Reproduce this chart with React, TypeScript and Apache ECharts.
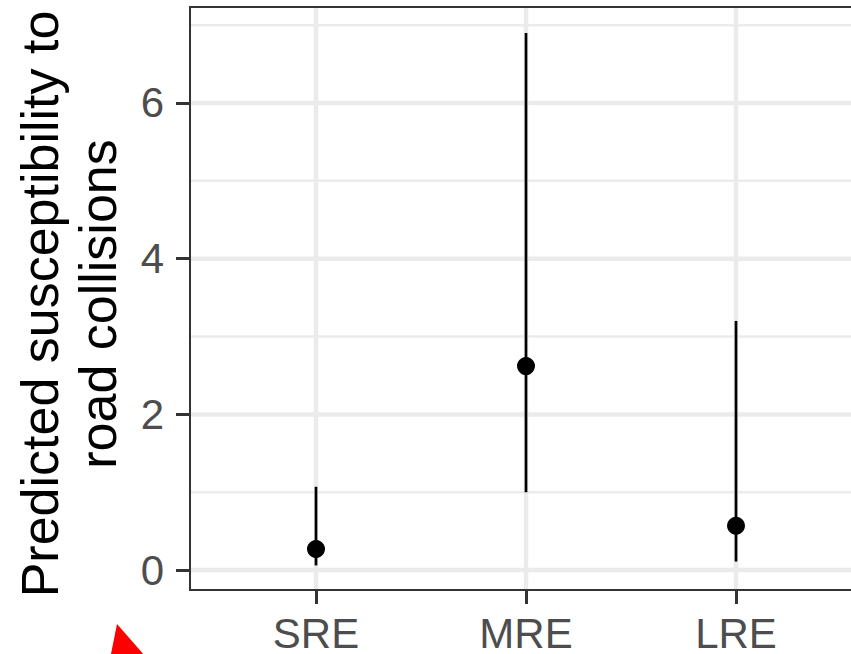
import React, { useEffect, useRef } from "react";
import * as echarts from "echarts";

const categories = ["SRE", "MRE", "LRE"];
const estimates = [0.27, 2.62, 0.57];
const lowerCI = [0.06, 1.0, 0.11];
const upperCI = [1.07, 6.9, 3.2];
const yMajor = [0, 2, 4, 6];
const yMinor = [1, 3, 5, 7];
const yTitle = "Predicted susceptibility to\nroad collisions";

const FONT = "Liberation Sans, Arial, sans-serif";

export default function App() {
  const ref = useRef<HTMLDivElement>(null);
  useEffect(() => {
    document.body.style.margin = "0";
    const chart = echarts.init(ref.current!, null, { renderer: "svg" });
    const xPos = categories.map((_, i) => i + 1);
    const gridColor = "#EBEBEB";

    const hLine = (width: number) => (params: any, api: any) => {
      const cs = params.coordSys;
      const y = api.coord([1, api.value(1)])[1];
      return {
        type: "line",
        shape: { x1: cs.x, y1: y, x2: cs.x + cs.width, y2: y },
        style: { stroke: gridColor, lineWidth: width },
      };
    };

    chart.setOption({
      animation: false,
      backgroundColor: "#ffffff",
      grid: { left: 190, right: 0, top: 7, bottom: 62 },
      xAxis: {
        type: "value",
        min: 0.4,
        max: 3.5476,
        splitLine: { show: false },
        axisLine: { show: true, onZero: false, lineStyle: { color: "#333333", width: 2 } },
        axisTick: { show: true, customValues: xPos, length: 14, lineStyle: { color: "#333333", width: 3 } },
        axisLabel: {
          customValues: xPos,
          formatter: (v: number) => categories[Math.round(v) - 1] ?? "",
          color: "#4D4D4D",
          fontSize: 42,
          fontFamily: FONT,
          margin: 22,
        },
      },
      yAxis: {
        type: "value",
        min: -0.256,
        max: 7.233,
        splitLine: { show: false },
        axisLine: { show: true, onZero: false, lineStyle: { color: "#333333", width: 2 } },
        axisTick: { show: true, customValues: yMajor, length: 14, lineStyle: { color: "#333333", width: 3 } },
        axisLabel: {
          customValues: yMajor,
          formatter: (v: number) => String(Math.round(v)),
          color: "#4D4D4D",
          fontSize: 42,
          fontFamily: FONT,
          margin: 26,
        },
      },
      graphic: [
        {
          type: "text",
          x: 69,
          y: 304,
          rotation: Math.PI / 2,
          style: {
            text: yTitle,
            fontSize: 52,
            fontFamily: FONT,
            fill: "#000000",
            align: "center",
            verticalAlign: "middle",
            lineHeight: 58,
          },
        },
        {
          type: "polygon",
          shape: { points: [[117, 624], [109, 664], [152, 664]] },
          style: { fill: "#FF0000" },
        },
      ],
      series: [
        {
          type: "custom",
          z: 1,
          silent: true,
          data: yMinor.map((v) => [1, v]),
          renderItem: hLine(2.5),
        },
        {
          type: "custom",
          z: 1,
          silent: true,
          data: yMajor.map((v) => [1, v]),
          renderItem: hLine(4.5),
        },
        {
          type: "custom",
          z: 1,
          silent: true,
          data: xPos.map((x) => [x, 0]),
          renderItem: (params: any, api: any) => {
            const cs = params.coordSys;
            const x = api.coord([api.value(0), 0])[0];
            return {
              type: "line",
              shape: { x1: x, y1: cs.y, x2: x, y2: cs.y + cs.height },
              style: { stroke: gridColor, lineWidth: 4.5 },
            };
          },
        },
        {
          type: "custom",
          z: 3,
          silent: true,
          clip: false,
          data: [[1, 0]],
          renderItem: (params: any) => {
            const cs = params.coordSys;
            return {
              type: "rect",
              shape: { x: cs.x, y: cs.y, width: cs.width + 40, height: cs.height },
              style: { stroke: "#333333", lineWidth: 2, fill: "none" },
            };
          },
        },
        {
          type: "custom",
          z: 4,
          silent: true,
          data: xPos.map((x, i) => [x, lowerCI[i], upperCI[i]]),
          renderItem: (params: any, api: any) => {
            const x = api.value(0);
            const p1 = api.coord([x, api.value(1)]);
            const p2 = api.coord([x, api.value(2)]);
            return {
              type: "line",
              shape: { x1: p1[0], y1: p1[1], x2: p2[0], y2: p2[1] },
              style: { stroke: "#000000", lineWidth: 2.7 },
            };
          },
        },
        {
          type: "scatter",
          z: 5,
          silent: true,
          symbol: "circle",
          symbolSize: 18,
          itemStyle: { color: "#000000", opacity: 1 },
          data: xPos.map((x, i) => [x, estimates[i]]),
        },
      ],
    });
    return () => chart.dispose();
  }, []);
  return <div ref={ref} style={{ width: 851, height: 654 }} />;
}
